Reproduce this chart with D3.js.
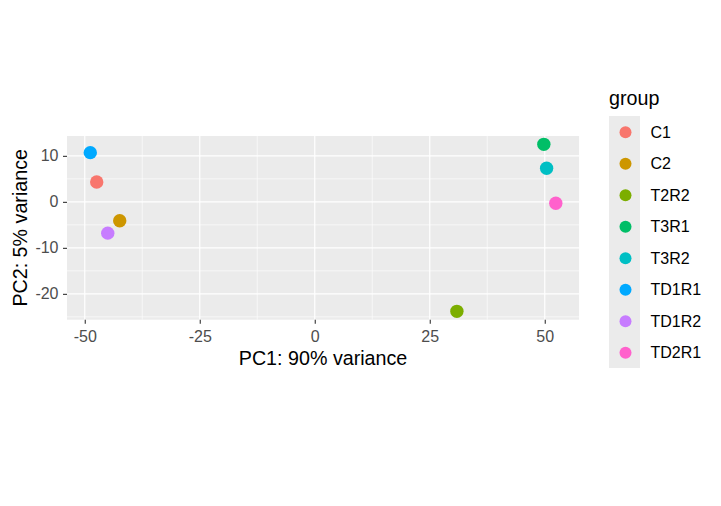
<!DOCTYPE html>
<html>
<head>
<meta charset="utf-8">
<script src="https://cdn.jsdelivr.net/npm/d3@7"></script>
<style>
  body { margin: 0; background: #fff; }
  text { font-family: Arial, "Liberation Sans", sans-serif; }
</style>
</head>
<body>
<script>
const width = 721,
  height = 506;

// samples and their PCA coordinates
const groups = ["C1", "C2", "T2R2", "T3R1", "T3R2", "TD1R1", "TD1R2", "TD2R1"];
const pc1 = [-47.4, -42.4, 30.9, 49.8, 50.4, -48.8, -45.0, 52.4];
const pc2 = [4.3, -4.1, -23.8, 12.5, 7.3, 10.7, -6.8, -0.3];
const colors = ["#F8766D", "#CD9600", "#7CAE00", "#00BE67", "#00BFC4", "#00A9FF", "#C77CFF", "#FF61CC"];

const xTicks = [-50, -25, 0, 25, 50];
const yTicks = [-20, -10, 0, 10];
const xMinor = [-37.5, -12.5, 12.5, 37.5];
const yMinor = [-25, -15, -5, 5];

const points = groups.map((g, i) => ({ group: g, x: pc1[i], y: pc2[i] }));

// ggplot style 5% expansion
function expand(ext) {
  const d = (ext[1] - ext[0]) * 0.05;
  return [ext[0] - d, ext[1] + d];
}
const xDomain = expand(d3.extent(pc1));
const yDomain = expand(d3.extent(pc2));

// fixed aspect ratio (coord_fixed)
const unit = 4.6;
const panelLeft = 67;
const panelTop = 136;
const panelW = (xDomain[1] - xDomain[0]) * unit;
const panelH = (yDomain[1] - yDomain[0]) * unit;

const x = d3.scaleLinear().domain(xDomain).range([panelLeft, panelLeft + panelW]);
const y = d3.scaleLinear().domain(yDomain).range([panelTop + panelH, panelTop]);
const color = d3.scaleOrdinal().domain(groups).range(colors);

const svg = d3
  .select("body")
  .append("svg")
  .attr("width", width)
  .attr("height", height);

svg.append("rect").attr("width", width).attr("height", height).attr("fill", "#fff");

// panel
svg
  .append("rect")
  .attr("x", panelLeft)
  .attr("y", panelTop)
  .attr("width", panelW)
  .attr("height", panelH)
  .attr("fill", "#EBEBEB");

const grid = svg.append("g");
grid
  .append("g")
  .selectAll("line")
  .data(xMinor)
  .join("line")
  .attr("x1", d => x(d))
  .attr("x2", d => x(d))
  .attr("y1", panelTop)
  .attr("y2", panelTop + panelH)
  .attr("stroke", "#fff")
  .attr("stroke-width", 0.6);
grid
  .append("g")
  .selectAll("line")
  .data(yMinor.filter(v => v >= yDomain[0]))
  .join("line")
  .attr("y1", d => y(d))
  .attr("y2", d => y(d))
  .attr("x1", panelLeft)
  .attr("x2", panelLeft + panelW)
  .attr("stroke", "#fff")
  .attr("stroke-width", 0.6);
grid
  .append("g")
  .selectAll("line")
  .data(xTicks)
  .join("line")
  .attr("x1", d => x(d))
  .attr("x2", d => x(d))
  .attr("y1", panelTop)
  .attr("y2", panelTop + panelH)
  .attr("stroke", "#fff")
  .attr("stroke-width", 1.2);
grid
  .append("g")
  .selectAll("line")
  .data(yTicks)
  .join("line")
  .attr("y1", d => y(d))
  .attr("y2", d => y(d))
  .attr("x1", panelLeft)
  .attr("x2", panelLeft + panelW)
  .attr("stroke", "#fff")
  .attr("stroke-width", 1.2);

// axes, with plain hyphen minus like R
const fmt = d => String(d);
const xAxis = svg
  .append("g")
  .attr("transform", `translate(0,${panelTop + panelH})`)
  .call(d3.axisBottom(x).tickValues(xTicks).tickFormat(fmt).tickSize(4).tickPadding(7));
const yAxis = svg
  .append("g")
  .attr("transform", `translate(${panelLeft},0)`)
  .call(d3.axisLeft(y).tickValues(yTicks).tickFormat(fmt).tickSize(4).tickPadding(4.5));

[xAxis, yAxis].forEach(a => {
  a.select(".domain").remove();
  a.selectAll(".tick line").attr("stroke", "#333333").attr("stroke-width", 1.1);
  a.selectAll(".tick text")
    .attr("fill", "#4D4D4D")
    .style("font-size", "16px")
    .style("font-family", "Arial, 'Liberation Sans', sans-serif");
});

// points
svg
  .append("g")
  .selectAll("circle")
  .data(points)
  .join("circle")
  .attr("cx", d => x(d.x))
  .attr("cy", d => y(d.y))
  .attr("r", 6.7)
  .attr("fill", d => color(d.group));

// axis titles
svg
  .append("text")
  .attr("x", panelLeft + panelW / 2)
  .attr("y", 365)
  .attr("text-anchor", "middle")
  .style("font-size", "19.7px")
  .text("PC1: 90% variance");
svg
  .append("text")
  .attr("transform", `translate(27,${panelTop + panelH / 2}) rotate(-90)`)
  .attr("text-anchor", "middle")
  .style("font-size", "19.7px")
  .text("PC2: 5% variance");

// legend
const legendX = 609,
  legendY = 116,
  keySize = 31.5;
const legend = svg.append("g");
legend
  .append("text")
  .attr("x", legendX)
  .attr("y", 105)
  .style("font-size", "19.7px")
  .text("group");
legend
  .append("rect")
  .attr("x", legendX)
  .attr("y", legendY)
  .attr("width", 31)
  .attr("height", keySize * groups.length)
  .attr("fill", "#EBEBEB");
const keys = legend
  .selectAll("g.key")
  .data(groups)
  .join("g")
  .attr("transform", (d, i) => `translate(${legendX},${legendY + i * keySize})`);
keys
  .append("circle")
  .attr("cx", 16.5)
  .attr("cy", keySize / 2 + 0.5)
  .attr("r", 6)
  .attr("fill", d => color(d));
keys
  .append("text")
  .attr("x", 41.5)
  .attr("y", keySize / 2 + 0.5)
  .attr("dy", "0.35em")
  .style("font-size", "16px")
  .text(d => d);
</script>
</body>
</html>
